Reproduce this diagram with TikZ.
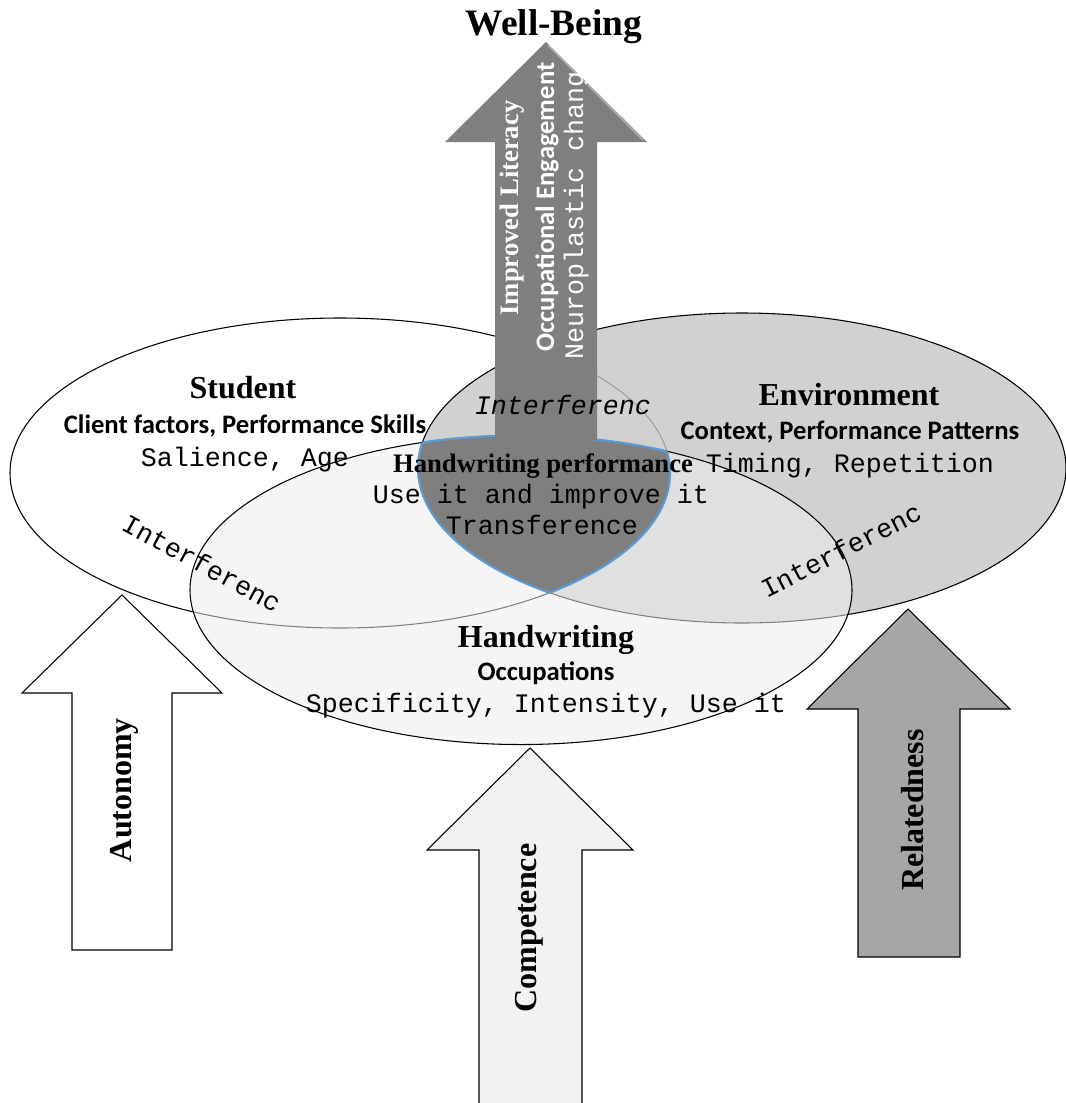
\documentclass[tikz,border=0pt]{standalone}
\usepackage{fontspec}
\setmainfont{Liberation Serif}
\newfontfamily\calibrifont{Carlito}
\newfontfamily\courierfont{Liberation Mono}

\definecolor{envgray}{RGB}{198,198,198}
\definecolor{hwgray}{RGB}{237,237,237}
\definecolor{coregray}{RGB}{127,127,127}
\definecolor{coreblue}{RGB}{91,155,213}
\definecolor{compfill}{RGB}{242,242,242}
\definecolor{relfill}{RGB}{166,166,166}

% the three circles of the model
\def\studentpath{(340,473) ellipse (247.5pt and 116.25pt)}
\def\envpath{(742,468) ellipse (243pt and 116.25pt)}
\def\hwpath{(521,590) ellipse (248.25pt and 115.9pt)}

\begin{document}
\begin{tikzpicture}[x=0.75pt,y=-0.75pt,
  outline/.style={draw=black,line width=0.8pt},
  titletext/.style={font=\fontsize{28}{32}\selectfont\bfseries,inner sep=0pt},
  heading/.style={font=\fontsize{24}{28}\selectfont\bfseries,inner sep=0pt},
  serifbold/.style={font=\fontsize{20}{24}\selectfont\bfseries,inner sep=0pt},
  subhead/.style={font=\calibrifont\fontsize{20}{24}\selectfont\bfseries,inner sep=0pt},
  monotext/.style={font=\courierfont\fontsize{20}{24}\selectfont,inner sep=0pt},
  monoitalic/.style={font=\courierfont\itshape\fontsize{20}{24}\selectfont,inner sep=0pt},
  arrowlabel/.style={font=\fontsize{24}{28}\selectfont\bfseries,inner sep=0pt,rotate=90},
]
\useasboundingbox (0,0) rectangle (1066,1103);

% circles
\path[outline,fill=white] \studentpath;
\path[outline,fill=envgray,fill opacity=0.8] \envpath;
\path[outline,fill=hwgray,fill opacity=0.54] \hwpath;

% common core of all three circles
\begin{scope}
  \clip \studentpath;
  \clip \envpath;
  \fill[coregray] \hwpath;
  \draw[coreblue,line width=1.6pt] \hwpath;
\end{scope}
\begin{scope}
  \clip \studentpath;
  \clip \hwpath;
  \draw[coreblue,line width=1.6pt] \envpath;
\end{scope}
\begin{scope}
  \clip \envpath;
  \clip \hwpath;
  \draw[coreblue,line width=1.6pt] \studentpath;
\end{scope}

% outcome arrow
\def\outcomearrow{(495,440) -- (495,142) -- (445,142) -- (546,42) -- (647,142) -- (597,142) -- (597,440) -- cycle}
\fill[coregray] \outcomearrow;
\draw[white,opacity=0.35,line width=1.5pt] (548,45) -- (643,140);

\node[titletext,anchor=base] (wellbeing) at (554,35) {Well-Being};

\node[serifbold,white,rotate=90] (literacy) at (512,208) {Improved Literacy};
\node[subhead,white,rotate=90] (engagement) at (547,207) {Occupational Engagement};
\begin{scope}
  \clip \outcomearrow;
  \node[monotext,white,rotate=90,anchor=base west] (neuro) at (583,360) {Neuroplastic chang};
\end{scope}

% interference labels
\node[monoitalic] (intTop) at (563,405) {Interferenc};
\node[monotext,rotate=-28.5] (intLeft) at (202,563) {Interferenc};
\node[monotext,rotate=27] (intRight) at (841,550) {Interferenc};

% student circle
\node[heading,anchor=base] (student) at (243,398) {Student};
\node[subhead,anchor=base] (clientfactors) at (245,433) {Client factors, Performance Skills};
\node[monotext,anchor=base] (salience) at (245,466) {Salience, Age};

% environment circle
\node[heading,anchor=base] (environment) at (849,405) {Environment};
\node[subhead,anchor=base] (context) at (850,439) {Context, Performance Patterns};
\node[monotext,anchor=base] (timing) at (850,472) {Timing, Repetition};

% core
\node[serifbold,anchor=base] (hwperf) at (543,472) {Handwriting performance};
\node[monotext,anchor=base] (useit) at (541,503) {Use it and improve it};
\node[monotext,anchor=base] (transfer) at (542,534) {Transference};

% handwriting circle
\node[heading,anchor=base] (handwriting) at (546,647) {Handwriting};
\node[subhead,anchor=base] (occupations) at (546,680) {Occupations};
\node[monotext,anchor=base] (specificity) at (546,712) {Specificity, Intensity, Use it};

% need arrows
\path[outline,fill=white] (72,950) -- (72,693) -- (22,693) -- (122,595) -- (222,693) -- (172,693) -- (172,950) -- cycle;
\node[arrowlabel] (autonomy) at (124,790) {Autonomy};

\path[outline,fill=compfill] (479,1110) -- (479,850) -- (427,850) -- (530,748) -- (633,850) -- (582,850) -- (582,1110) -- cycle;
\node[arrowlabel] (competence) at (529,928) {Competence};

\path[outline,fill=relfill] (858,957) -- (858,709) -- (807,709) -- (908,609) -- (1010,709) -- (960,709) -- (960,957) -- cycle;
\node[arrowlabel] (relatedness) at (913,810) {Relatedness};
\end{tikzpicture}
\end{document}
